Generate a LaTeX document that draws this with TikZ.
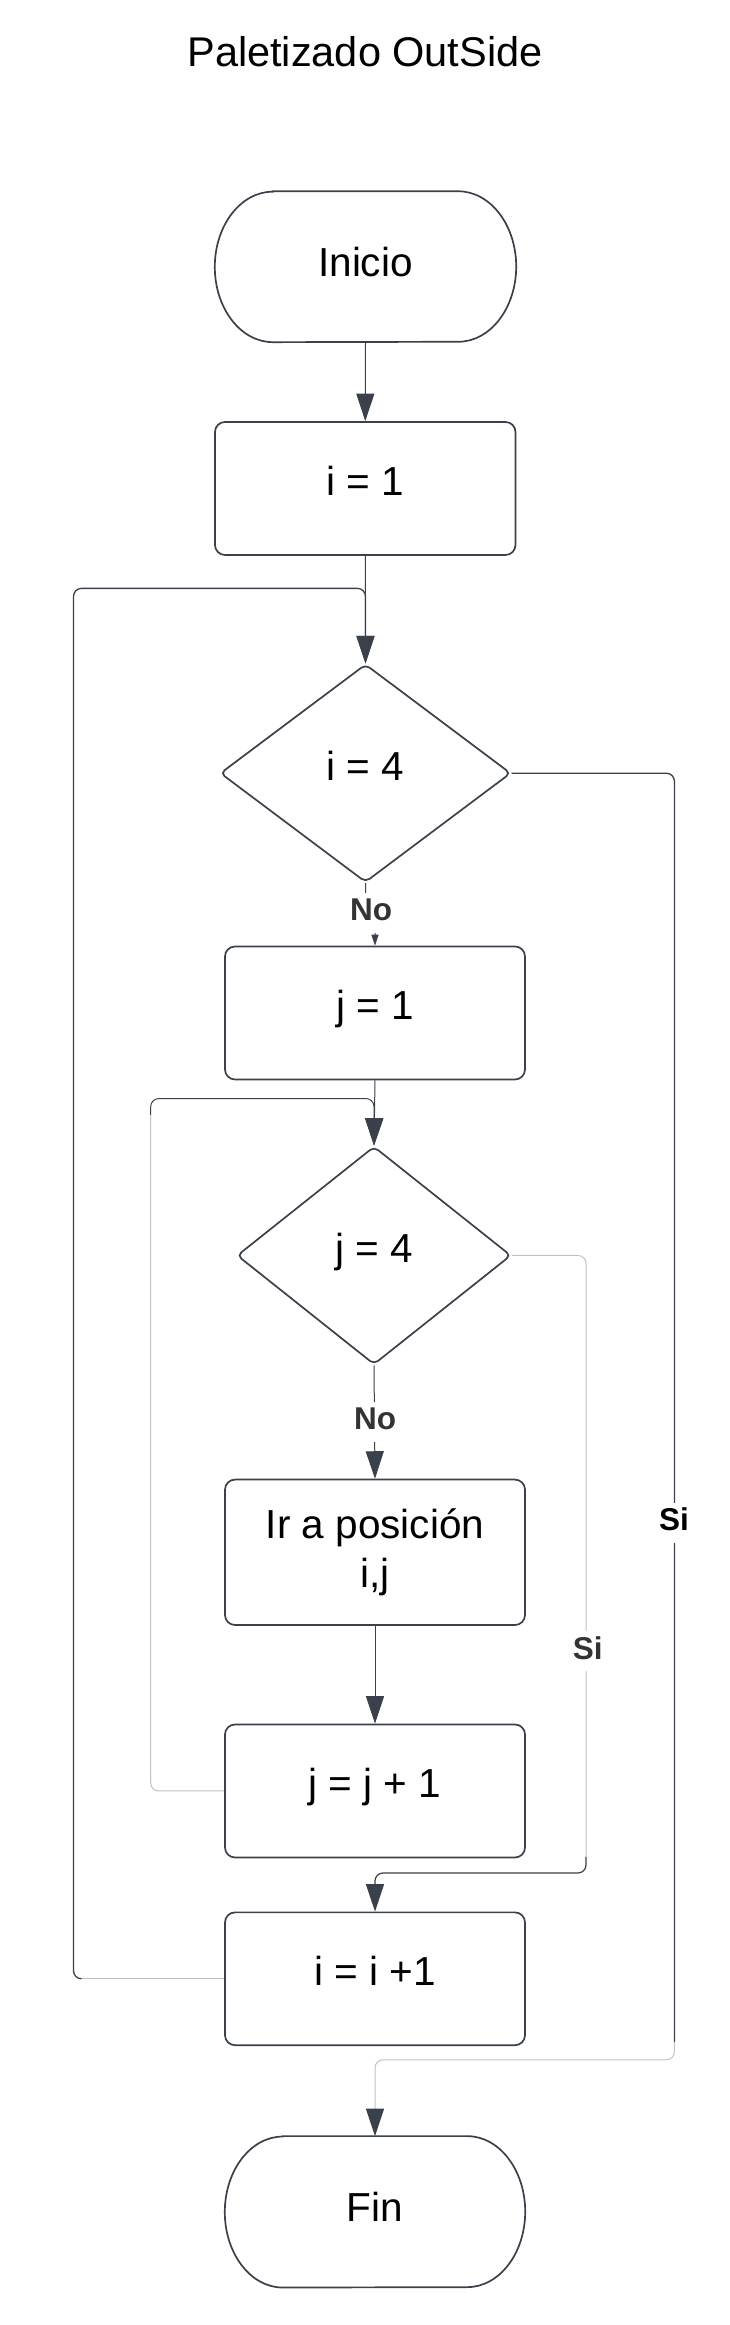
\documentclass[tikz,border=0pt]{standalone}
\usepackage{fontspec}
\setmainfont{Liberation Sans}
\usetikzlibrary{arrows.meta,shapes.geometric}
\definecolor{edge}{HTML}{3A414A}
\definecolor{lightln}{HTML}{BFC2C5}
\definecolor{lbltxt}{HTML}{333333}
\begin{document}
\begin{tikzpicture}[x=1pt,y=1pt,
  shp/.style={draw=edge, line width=1.7pt, fill=white, inner sep=0pt,
    font=\fontsize{40.5}{48.3}\selectfont, text=black},
  onel/.style={text height=30pt, text depth=16pt},
  procbox/.style={shp, rectangle, rounded corners=10pt, minimum width=300pt},
  decis/.style={shp, diamond, rounded corners=5pt},
  term/.style={rectangle, inner sep=0pt, font=\fontsize{40.5}{48.3}\selectfont,
    text=black, text height=30pt, text depth=10pt},
  termline/.style={draw=edge, line width=1.7pt},
  conn/.style={draw=edge, line width=1pt, rounded corners=8pt},
  lightconn/.style={draw=lightln, line width=1pt, rounded corners=8pt},
  arr/.style={-{Triangle[width=18pt,length=27.5pt,color=edge]}},
  smallarr/.style={-{Triangle[width=7pt,length=11pt,color=edge]}},
  lbl/.style={fill=white, inner xsep=2pt, inner ysep=0pt, text height=28pt,
    text depth=12pt, font=\fontsize{31.5}{36}\selectfont\bfseries,
    text=lbltxt, anchor=base},
]
\useasboundingbox (0,0) rectangle (729,2325);

% title
\node[font=\fontsize{41.5}{50}\selectfont, anchor=base, inner sep=0pt] (title) at (365,2258) {Paletizado OutSide};

% nodes
\node[term, minimum width=301pt, minimum height=150.5pt] (ini) at (365.5,2058.25) {Inicio};
\draw[termline] ([xshift=58pt]ini.north west) -- ([xshift=-58pt]ini.north east)
  arc[start angle=90, end angle=-90, x radius=58pt, y radius=75.25pt]
  -- ([xshift=58pt]ini.south west)
  arc[start angle=270, end angle=90, x radius=58pt, y radius=75.25pt] -- cycle;

\node[procbox, onel, minimum width=300.5pt, minimum height=133pt] (i1) at (365.25,1836.5) {i = 1};
\node[decis, onel, minimum width=290.6pt, minimum height=218pt] (i4) at (365.5,1551.75) {i = 4};
\node[procbox, onel, minimum height=133pt] (j1) at (375,1312) {j = 1};
\node[decis, onel, minimum width=274pt, minimum height=218pt] (j4) at (374,1069.5) {j = 4};
\node[procbox, align=center, minimum height=145.4pt] (ir) at (375,772.7) {Ir a posición\\i,j};
\node[procbox, onel, minimum height=133pt] (jj1) at (375,534) {j = j + 1};
\node[procbox, onel, minimum height=132.8pt] (ii1) at (375,346.2) {i = i +1};

\node[term, minimum width=300pt, minimum height=151pt] (fin) at (375,113.15) {Fin};
\draw[termline] ([xshift=58pt]fin.north west) -- ([xshift=-58pt]fin.north east)
  arc[start angle=90, end angle=-90, x radius=58pt, y radius=75.5pt]
  -- ([xshift=58pt]fin.south west)
  arc[start angle=270, end angle=90, x radius=58pt, y radius=75.5pt] -- cycle;

% helper coordinates
\coordinate (oTL) at (73.5,1736.6);
\coordinate (oB) at (81.5,346.2);
\coordinate (iTL) at (150.7,1226.4);
\coordinate (iA) at (150.7,1210);
\coordinate (sR) at (586,452);
\coordinate (sA) at (586,468);
\coordinate (oR) at (674.4,265.2);
\coordinate (oA) at (674.4,283);

% straight connectors
\draw[conn, arr] (ini.south) -- (i1.north);
\draw[conn, arr] (i1.south) -- (i4.north);
\draw[conn, smallarr, rounded corners=2pt] (i4.south) -- ++(0,-30) -| (j1.north);
\draw[conn, arr] (j1.south) -- (j4.north);
\draw[conn, arr] (j4.south) -- (ir.north);
\draw[conn, arr] (ir.south) -- (jj1.north);

% outer loop (i = i + 1 back to i = 4)
\draw[lightconn] (ii1.west) -- (oB);
\draw[conn, line width=1.3pt, arr] (oB) -| (oTL) -| (i4.north);

% inner loop (j = j + 1 back to j = 4)
\draw[lightconn] (jj1.west) -| (iA);
\draw[conn, arr] (iA) -- (iTL) -| (j4.north);

% j = 4 Si -> i = i + 1
\draw[lightconn] (j4.east) -| (sA);
\draw[conn, line width=1.2pt, arr] (sA) -- (sR) -| (ii1.north);

% i = 4 Si -> Fin
\draw[conn, line width=1.3pt] (i4.east) -| (oA);
\draw[lightconn, arr] (oA) -- (oR) -| (fin.north);

% labels
\node[lbl] (no1) at (371,1404.4) {No};
\node[lbl] (no2) at (375,895.2) {No};
\node[lbl, text=black!80] (si1) at (587.7,665.6) {Si};
\node[lbl, text=black] (si2) at (674,794) {Si};
\end{tikzpicture}
\end{document}
